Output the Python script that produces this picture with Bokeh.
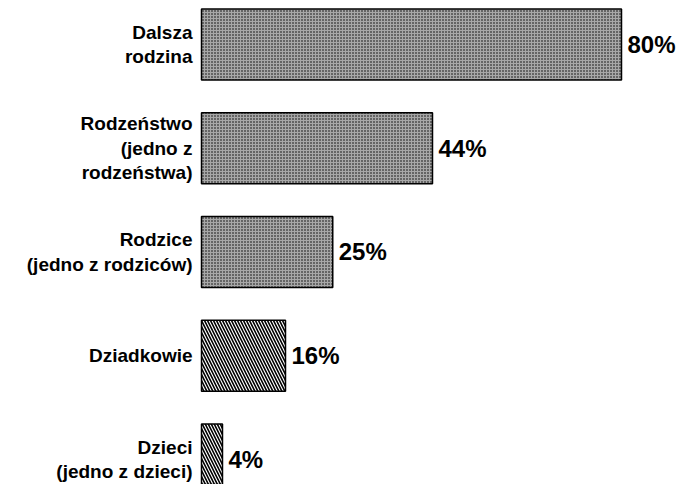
from bokeh.plotting import figure
from bokeh.models import Range1d, ColumnDataSource
from bokeh.core.properties import value
from bokeh.embed import file_html
from bokeh.resources import INLINE

categories = ["Dalsza\nrodzina",
              "Rodzeństwo\n(jedno z\nrodzeństwa)",
              "Rodzice\n(jedno z rodziców)",
              "Dziadkowie",
              "Dzieci\n(jedno z dzieci)"]
values = [80, 44, 25, 16, 4]
value_labels = ["80%", "44%", "25%", "16%", "4%"]
positions = [0, 1, 2, 3, 4]
patterns = ["dot", "dot", "dot", "left_diagonal_line", "left_diagonal_line"]
fills = ["#a8a8a8", "#a8a8a8", "#a8a8a8", "white", "white"]
hscale = [3, 3, 3, 6, 6]
hweight = [1.5, 1.5, 1.5, 1.6, 1.6]

W, H = 676, 484
PX = 5.25
p = figure(width=W, height=H, output_backend="svg", toolbar_location=None,
           x_range=Range1d(-201 / PX, (W - 201) / PX),
           y_range=Range1d(4.241, -0.424),
           min_border=0, outline_line_color=None)
p.xaxis.visible = False
p.yaxis.visible = False
p.xgrid.visible = False
p.ygrid.visible = False

src = ColumnDataSource(dict(y=positions, v=values, cat=categories, lab=value_labels,
                            pat=patterns, fill=fills, hs=hscale, hw=hweight,
                            zero=[0] * len(values)))

p.hbar(y="y", left=0, right="v", height=0.685, source=src,
       fill_color="fill", line_color="black", line_width=1.5,
       hatch_pattern="pat", hatch_color="black", hatch_scale="hs", hatch_weight="hw")

p.text(x="zero", y="y", text="cat", source=src, x_offset=-9,
       text_align="right", text_baseline="middle",
       text_font=value("Liberation Sans"), text_font_style="bold",
       text_font_size="19px", text_line_height=1.17, text_color="black")

p.text(x="v", y="y", text="lab", source=src, x_offset=6,
       text_align="left", text_baseline="middle",
       text_font=value("Liberation Sans"), text_font_style="bold",
       text_font_size="24px", text_color="black")

open("out.html", "w").write(file_html(p, INLINE))
